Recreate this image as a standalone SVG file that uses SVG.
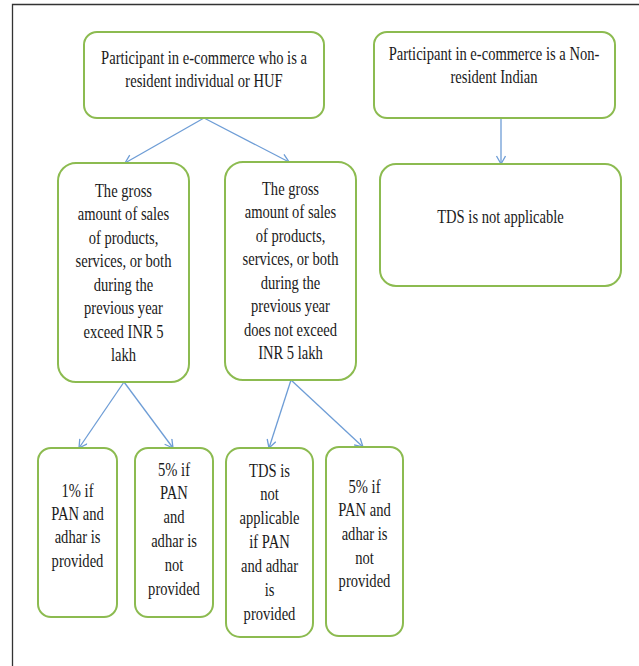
<svg xmlns="http://www.w3.org/2000/svg" width="639" height="666" viewBox="0 0 639 666">
<style>
.box{fill:#ffffff;stroke:#8cbb50;stroke-width:2}
.lbl{font-family:"Liberation Serif","Times New Roman",serif;font-size:19px;fill:#1a1a1a;text-anchor:middle}
.con{fill:none;stroke:#6e9dd6;stroke-width:1.3}
.frame{fill:none;stroke:#333333;stroke-width:1.3}
</style>
<defs>
<marker id="ah" markerUnits="userSpaceOnUse" markerWidth="12" markerHeight="12" refX="9" refY="5" orient="auto">
<path d="M1,0.5 L9,5 L1,9.5" fill="none" stroke="#6e9dd6" stroke-width="1.3"/>
</marker>
</defs>
<rect width="639" height="666" fill="#ffffff"/>
<path class="frame" d="M12.5,666 V4.5 H639"/>

<g id="connectors">
<line class="con" x1="204" y1="118" x2="125" y2="163" marker-end="url(#ah)"/>
<line class="con" x1="204" y1="118" x2="289" y2="162" marker-end="url(#ah)"/>
<line class="con" x1="501" y1="118" x2="501" y2="164" marker-end="url(#ah)"/>
<line class="con" x1="124" y1="382" x2="79" y2="448" marker-end="url(#ah)"/>
<line class="con" x1="124" y1="382" x2="173" y2="448" marker-end="url(#ah)"/>
<line class="con" x1="291" y1="380" x2="269" y2="448" marker-end="url(#ah)"/>
<line class="con" x1="291" y1="380" x2="363" y2="447" marker-end="url(#ah)"/>
</g>

<g id="nodeA">
<rect class="box" x="84" y="32" width="240" height="86" rx="13"/>
<g transform="translate(204 0) scale(0.767 1)">
<text class="lbl" x="0" y="64">Participant in e-commerce who is a</text>
<text class="lbl" x="0" y="87">resident individual or HUF</text>
</g>
</g>

<g id="nodeB">
<rect class="box" x="374" y="32" width="241" height="86" rx="13"/>
<g transform="translate(494 0) scale(0.767 1)">
<text class="lbl" x="0" y="60">Participant in e-commerce is a Non-</text>
<text class="lbl" x="0" y="83">resident Indian</text>
</g>
</g>

<g id="nodeC">
<rect class="box" x="58" y="163" width="131" height="219" rx="18"/>
<g transform="translate(123.5 0) scale(0.767 1)">
<text class="lbl" x="0" y="197">The gross</text>
<text class="lbl" x="0" y="220.5">amount of sales</text>
<text class="lbl" x="0" y="244">of products,</text>
<text class="lbl" x="0" y="267.5">services, or both</text>
<text class="lbl" x="0" y="291">during the</text>
<text class="lbl" x="0" y="314.5">previous year</text>
<text class="lbl" x="0" y="338">exceed INR 5</text>
<text class="lbl" x="0" y="361.5">lakh</text>
</g>
</g>

<g id="nodeD">
<rect class="box" x="225" y="162" width="131" height="218" rx="18"/>
<g transform="translate(290.5 0) scale(0.767 1)">
<text class="lbl" x="0" y="195">The gross</text>
<text class="lbl" x="0" y="218.5">amount of sales</text>
<text class="lbl" x="0" y="242">of products,</text>
<text class="lbl" x="0" y="265.5">services, or both</text>
<text class="lbl" x="0" y="289">during the</text>
<text class="lbl" x="0" y="312.5">previous year</text>
<text class="lbl" x="0" y="336">does not exceed</text>
<text class="lbl" x="0" y="359.5">INR 5 lakh</text>
</g>
</g>

<g id="nodeF">
<rect class="box" x="380" y="164" width="241" height="122" rx="16"/>
<g transform="translate(500.5 0) scale(0.767 1)">
<text class="lbl" x="0" y="223">TDS is not applicable</text>
</g>
</g>

<g id="nodeG">
<rect class="box" x="38" y="448" width="79" height="169" rx="13"/>
<g transform="translate(77.5 0) scale(0.767 1)">
<text class="lbl" x="0" y="497">1% if</text>
<text class="lbl" x="0" y="520">PAN and</text>
<text class="lbl" x="0" y="543.5">adhar is</text>
<text class="lbl" x="0" y="567">provided</text>
</g>
</g>

<g id="nodeH">
<rect class="box" x="135" y="448" width="78" height="169" rx="13"/>
<g transform="translate(174 0) scale(0.767 1)">
<text class="lbl" x="0" y="476">5% if</text>
<text class="lbl" x="0" y="499.5">PAN</text>
<text class="lbl" x="0" y="523">and</text>
<text class="lbl" x="0" y="547">adhar is</text>
<text class="lbl" x="0" y="571">not</text>
<text class="lbl" x="0" y="595">provided</text>
</g>
</g>

<g id="nodeI">
<rect class="box" x="226" y="448" width="87" height="189" rx="14"/>
<g transform="translate(269.5 0) scale(0.767 1)">
<text class="lbl" x="0" y="477">TDS is</text>
<text class="lbl" x="0" y="500.5">not</text>
<text class="lbl" x="0" y="524">applicable</text>
<text class="lbl" x="0" y="548">if PAN</text>
<text class="lbl" x="0" y="572">and adhar</text>
<text class="lbl" x="0" y="596">is</text>
<text class="lbl" x="0" y="620">provided</text>
</g>
</g>

<g id="nodeJ">
<rect class="box" x="326" y="447" width="77" height="189" rx="13"/>
<g transform="translate(364.5 0) scale(0.767 1)">
<text class="lbl" x="0" y="493">5% if</text>
<text class="lbl" x="0" y="516.5">PAN and</text>
<text class="lbl" x="0" y="540">adhar is</text>
<text class="lbl" x="0" y="564">not</text>
<text class="lbl" x="0" y="587">provided</text>
</g>
</g>
</svg>
